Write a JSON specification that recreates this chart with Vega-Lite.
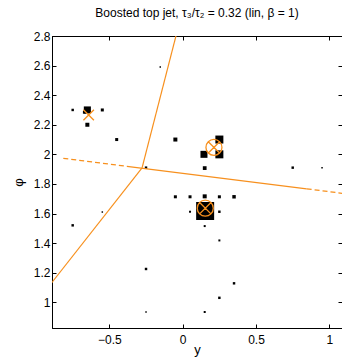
{
  "$schema": "https://vega.github.io/schema/vega-lite/v6.json",
  "width": 290,
  "height": 292,
  "autosize": {"type": "none"},
  "padding": {"left": 52, "top": 36, "right": 0, "bottom": 32},
  "background": "white",
  "title": {
    "text": "Boosted top jet, τ₃/τ₂ = 0.32 (lin, β = 1)",
    "font": "Liberation Sans",
    "fontSize": 12,
    "fontWeight": "normal",
    "color": "black",
    "anchor": "middle",
    "frame": "group",
    "offset": 10
  },
  "config": {
    "view": {"stroke": "black", "strokeWidth": 1},
    "axis": {
      "labelFont": "Liberation Sans",
      "labelFontSize": 12,
      "labelColor": "black",
      "titleFont": "Liberation Sans",
      "titleFontSize": 13,
      "titleFontWeight": "normal",
      "titleColor": "black",
      "domainColor": "black",
      "tickColor": "black",
      "grid": false
    }
  },
  "datasets": {
    "particles": [
      {"y": -0.75, "phi": 2.30, "pt": 3},
      {"y": -0.65, "phi": 2.30, "pt": 25},
      {"y": -0.67, "phi": 2.285, "pt": 4.5},
      {"y": -0.548, "phi": 2.30, "pt": 4.5},
      {"y": -0.65, "phi": 2.20, "pt": 8},
      {"y": -0.45, "phi": 2.10, "pt": 4.5},
      {"y": -0.153, "phi": 2.59, "pt": 1.1},
      {"y": -0.05, "phi": 2.10, "pt": 8},
      {"y": -0.25, "phi": 1.91, "pt": 3},
      {"y": 0.25, "phi": 2.10, "pt": 32},
      {"y": 0.145, "phi": 2.00, "pt": 24.5},
      {"y": 0.25, "phi": 2.00, "pt": 32},
      {"y": 0.15, "phi": 1.907, "pt": 7},
      {"y": 0.75, "phi": 1.91, "pt": 3},
      {"y": 0.95, "phi": 1.91, "pt": 1.1},
      {"y": -0.75, "phi": 1.52, "pt": 3},
      {"y": -0.548, "phi": 1.61, "pt": 1.1},
      {"y": -0.05, "phi": 1.713, "pt": 4.5},
      {"y": 0.05, "phi": 1.713, "pt": 4.5},
      {"y": 0.15, "phi": 1.716, "pt": 8},
      {"y": 0.25, "phi": 1.713, "pt": 4.5},
      {"y": 0.35, "phi": 1.713, "pt": 6},
      {"y": 0.05, "phi": 1.612, "pt": 2},
      {"y": 0.153, "phi": 1.617, "pt": 162},
      {"y": 0.25, "phi": 1.612, "pt": 3},
      {"y": 0.15, "phi": 1.515, "pt": 2},
      {"y": 0.25, "phi": 1.418, "pt": 2},
      {"y": 0.35, "phi": 1.128, "pt": 3},
      {"y": 0.25, "phi": 1.03, "pt": 3},
      {"y": 0.15, "phi": 0.934, "pt": 2},
      {"y": -0.25, "phi": 1.225, "pt": 3},
      {"y": -0.25, "phi": 0.934, "pt": 1.1}
    ],
    "solid": [
      {"seg": "A", "o": 0, "y": -0.277, "phi": 1.909},
      {"seg": "A", "o": 1, "y": -0.033, "phi": 2.85},
      {"seg": "B", "o": 0, "y": -0.277, "phi": 1.909},
      {"seg": "B", "o": 1, "y": -0.95, "phi": 1.06},
      {"seg": "C", "o": 0, "y": -0.38, "phi": 1.919},
      {"seg": "C", "o": 1, "y": 0.845, "phi": 1.767}
    ],
    "dashed": [
      {"seg": "D", "o": 0, "y": -0.814, "phi": 1.973},
      {"seg": "D", "o": 1, "y": -0.38, "phi": 1.919},
      {"seg": "E", "o": 0, "y": 0.845, "phi": 1.767},
      {"seg": "E", "o": 1, "y": 1.1, "phi": 1.735}
    ],
    "axes1": [{"y": -0.641, "phi": 2.266}],
    "axes2": [
      {"y": 0.213, "phi": 2.047},
      {"y": 0.154, "phi": 1.636}
    ]
  },
  "resolve": {"axis": {"x": "independent", "y": "independent"}},
  "layer": [
    {
      "data": {"name": "particles"},
      "mark": {"type": "point", "shape": "square", "filled": true, "color": "black", "opacity": 1, "strokeWidth": 0},
      "encoding": {
        "x": {
          "field": "y", "type": "quantitative",
          "scale": {"domain": [-0.891, 1.086], "nice": false, "zero": false},
          "axis": {"orient": "bottom", "values": [-0.5, 0, 0.5, 1], "format": "~g", "tickSize": -4, "labelPadding": 10, "title": "y", "titlePadding": -2, "domain": true}
        },
        "y": {
          "field": "phi", "type": "quantitative",
          "scale": {"domain": [0.826, 2.8], "nice": false, "zero": false},
          "axis": {"orient": "left", "values": [1, 1.2, 1.4, 1.6, 1.8, 2, 2.2, 2.4, 2.6, 2.8], "format": "~g", "tickSize": -4, "labelPadding": 6, "title": "φ", "titlePadding": 8, "domain": true}
        },
        "size": {"field": "pt", "type": "quantitative", "scale": {"type": "linear", "domain": [0, 200], "range": [0, 400]}, "legend": null}
      }
    },
    {
      "data": {"name": "solid"},
      "mark": {"type": "line", "color": "#f7901e", "strokeWidth": 1.2, "clip": true},
      "encoding": {
        "x": {
          "field": "y", "type": "quantitative",
          "scale": {"domain": [-0.891, 1.086], "nice": false, "zero": false},
          "axis": {"orient": "top", "values": [-0.5, 0, 0.5, 1], "labels": false, "tickSize": -4, "title": null}
        },
        "y": {
          "field": "phi", "type": "quantitative",
          "scale": {"domain": [0.826, 2.8], "nice": false, "zero": false},
          "axis": {"orient": "right", "values": [1, 1.2, 1.4, 1.6, 1.8, 2, 2.2, 2.4, 2.6, 2.8], "labels": false, "tickSize": -4, "title": null}
        },
        "detail": {"field": "seg"},
        "order": {"field": "o"}
      }
    },
    {
      "data": {"name": "dashed"},
      "mark": {"type": "line", "color": "#f7901e", "strokeWidth": 1.2, "strokeDash": [5, 3], "clip": true},
      "encoding": {
        "x": {"field": "y", "type": "quantitative", "scale": {"domain": [-0.891, 1.086], "nice": false, "zero": false}, "axis": null},
        "y": {"field": "phi", "type": "quantitative", "scale": {"domain": [0.826, 2.8], "nice": false, "zero": false}, "axis": null},
        "detail": {"field": "seg"},
        "order": {"field": "o"}
      }
    },
    {
      "data": {"name": "axes1"},
      "mark": {"type": "point", "shape": "M-1,-1L1,1M-1,1L1,-1", "filled": false, "color": "#f7901e", "strokeWidth": 1.3, "size": 110, "opacity": 1},
      "encoding": {
        "x": {"field": "y", "type": "quantitative", "scale": {"domain": [-0.891, 1.086], "nice": false, "zero": false}, "axis": null},
        "y": {"field": "phi", "type": "quantitative", "scale": {"domain": [0.826, 2.8], "nice": false, "zero": false}, "axis": null}
      }
    },
    {
      "data": {"name": "axes2"},
      "mark": {"type": "point", "shape": "M1,0A1,1 0 1,1 -1,0A1,1 0 1,1 1,0M-0.707,-0.707L0.707,0.707M-0.707,0.707L0.707,-0.707", "filled": false, "color": "#f7901e", "strokeWidth": 1.3, "size": 256, "opacity": 1},
      "encoding": {
        "x": {"field": "y", "type": "quantitative", "scale": {"domain": [-0.891, 1.086], "nice": false, "zero": false}, "axis": null},
        "y": {"field": "phi", "type": "quantitative", "scale": {"domain": [0.826, 2.8], "nice": false, "zero": false}, "axis": null}
      }
    }
  ]
}
